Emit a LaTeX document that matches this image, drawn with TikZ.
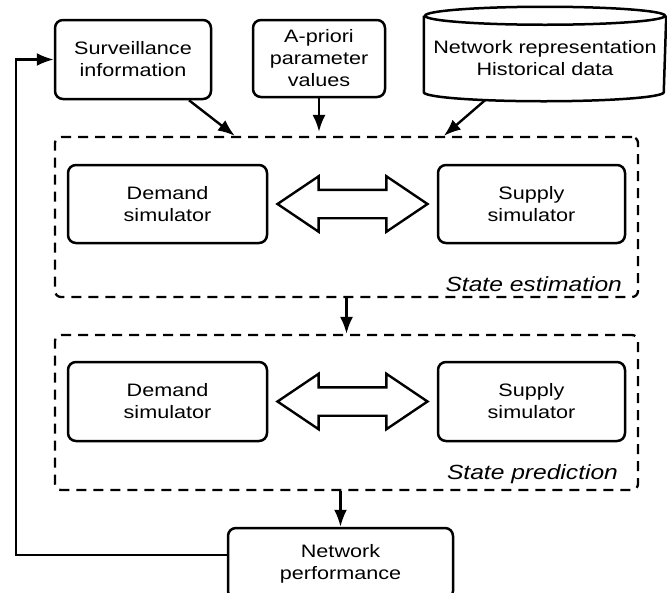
\documentclass[tikz,border=0pt]{standalone}
\usepackage{fontspec}
\setmainfont{Liberation Sans}[FakeStretch=1.2]
\usetikzlibrary{calc,arrows.meta,shapes.arrows}

\begin{document}
\begin{tikzpicture}[%
x=1pt,y=1pt,
box/.style={draw,line width=2.5pt,rounded corners=8pt,align=center,font=\fontsize{18}{22}\selectfont,inner sep=0pt},
stagebox/.style={draw,line width=2.3pt,dash pattern=on 10pt off 7pt,rounded corners=6pt,inner sep=0pt},
stagelabel/.style={font=\fontsize{20.5}{24}\selectfont\itshape,inner sep=0pt},
link/.style={line width=2.4pt,-{Latex[length=17pt,width=13pt]}},
swap/.style={double arrow,draw,line width=2.4pt,inner xsep=0pt,inner ysep=13pt,double arrow head extend=13.5pt,double arrow tip angle=68,minimum height=150pt},
]
\useasboundingbox (0,0) rectangle (667,-592);
%% inputs;
\node[box,minimum width=156pt,minimum height=79pt] (surv) at (133,-59.5) {Surveillance\\information};
\node[box,minimum width=132pt,minimum height=77pt] (apri) at (319,-58.5) {A-priori\\parameter\\values};
\node[box,draw=none,rounded corners=0pt,minimum width=240pt,minimum height=65pt] (netrep) at (545,-58.5) {Network representation\\Historical data};
%% database;
\draw[line width=2.5pt] ([yshift=9pt]netrep.north west) -- (netrep.south west) arc[start angle=180,end angle=360,x radius=120pt,y radius=9pt] -- ([yshift=9pt]netrep.north east);
\draw[line width=2.5pt] ([yshift=9pt]netrep.north) ellipse [x radius=120pt,y radius=9pt];
%% stages;
\node[stagebox,minimum width=583pt,minimum height=160pt] (est) at (346.5,-217) {};
\node[stagebox,minimum width=583pt,minimum height=155pt] (pred) at (346.5,-412.5) {};
\node[stagelabel,anchor=base east] (estlabel) at ([shift={(-17pt,7pt)}]est.south east) {State estimation};
\node[stagelabel,anchor=base east] (predlabel) at ([shift={(-21pt,12pt)}]pred.south east) {State prediction};
%% simulators;
\node[box,minimum width=199pt,minimum height=78pt] (dem1) at (167.5,-204) {Demand\\simulator};
\node[box,minimum width=187pt,minimum height=78pt] (sup1) at (531.5,-204) {Supply\\simulator};
\node[swap] (swap1) at ($(dem1.east)!0.5!(sup1.west)$) {};
\node[box,minimum width=199pt,minimum height=79pt] (dem2) at (167.5,-401.5) {Demand\\simulator};
\node[box,minimum width=187pt,minimum height=79pt] (sup2) at (531.5,-401.5) {Supply\\simulator};
\node[swap] (swap2) at ($(dem2.east)!0.5!(sup2.west)$) {};
%% output;
\node[box,minimum width=225pt,minimum height=71pt] (perf) at (340.5,-563.5) {Network\\performance};
%% links;
\draw[link] ([xshift=56pt]surv.south) -- ([xshift=181pt]est.north west);
\draw[link] (apri.south) -- ([yshift=4pt]apri.south |- est.north);
\draw[link] ([shift={(-60pt,-8pt)}]netrep.south) -- ([xshift=390pt]est.north west);
\draw[link] (est.south) -- (pred.north);
\draw[link] (pred.south -| perf.north) -- (perf.north);
\coordinate (fb) at (16,-555);
\draw[link] (perf.west |- fb) -- (fb) |- (surv.west);
\end{tikzpicture}
\end{document}
